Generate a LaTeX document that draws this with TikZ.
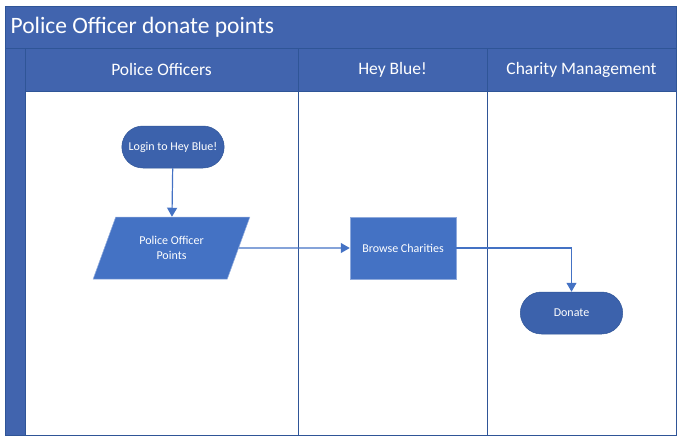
\documentclass[tikz,border=0pt]{standalone}
\usepackage{fontspec}
\setmainfont{Carlito}
\usetikzlibrary{arrows.meta,positioning,shapes.geometric,shapes.misc}
\definecolor{laneblue}{HTML}{4164AE}
\definecolor{laneline}{HTML}{2F5597}
\definecolor{termblue}{HTML}{3C62AC}
\definecolor{stepblue}{HTML}{4472C4}
\tikzset{
    >={Triangle[length=9pt,width=10pt]},
    every picture/.style={line width=0.5pt},
    terminal/.style={rounded rectangle,draw=laneline,fill=termblue,text=white,
        minimum width=109pt,minimum height=42pt,font=\fontsize{12}{14.4}\selectfont},
    process/.style={rectangle,draw=stepblue!60!white,fill=stepblue,text=white,
        minimum width=106pt,minimum height=62pt,font=\fontsize{12}{14.4}\selectfont},
    datanode/.style={trapezium,trapezium left angle=64,trapezium right angle=116,
        trapezium stretches=true,draw=stepblue!60!white,fill=stepblue,text=white,
        minimum width=157pt,minimum height=62pt,align=center,
        font=\fontsize{12}{14.4}\selectfont},
    flow/.style={->,draw=stepblue,line width=1.2pt}
}

\begin{document}
\begin{tikzpicture}[x=1pt,y=-1pt]
    \useasboundingbox (0,0) rectangle (684,442);

    % Pool frame, title and lane headers
    \fill[laneblue] (5,6) rectangle (676,91);
    \fill[laneblue] (5,6) rectangle (25,435);
    \draw[laneline,line width=1pt] (5,6) rectangle (676,435);
    \draw[laneline,line width=1pt] (5,48) -- (676,48);
    \draw[laneline,line width=1pt] (25,48) -- (25,435);
    \draw[laneline,line width=1pt] (25,91) -- (676,91);
    \draw[laneline,line width=1pt] (298,48) -- (298,435);
    \draw[laneline,line width=1pt] (487,48) -- (487,435);
    \node[anchor=west,text=white,font=\fontsize{23.5}{28}\selectfont] (title) at (7,27) {Police Officer donate points};
    \node[text=white,font=\fontsize{17.5}{21}\selectfont] (lane1) at (161.5,69.5) {Police Officers};
    \node[text=white,font=\fontsize{17.5}{21}\selectfont] (lane2) at (392.5,69.5) {Hey Blue!};
    \node[text=white,font=\fontsize{17.5}{21}\selectfont] (lane3) at (581.5,69.5) {Charity Management};

    % Steps
    \node[terminal] (login) at (173,147) {Login to Hey Blue!};
    \node[datanode] (points) at (171.5,248) {Police Officer\\Points};
    \node[process] (browse) at (403,248) {Browse Charities};
    \node[terminal] (donate) at (571.5,313) {Donate};

    % Flow
    \draw[flow] (login) -- (points);
    \draw[flow] (points.east) -- (browse.west);
    \draw[flow] (browse.east) -| (donate.north);
\end{tikzpicture}
\end{document}
